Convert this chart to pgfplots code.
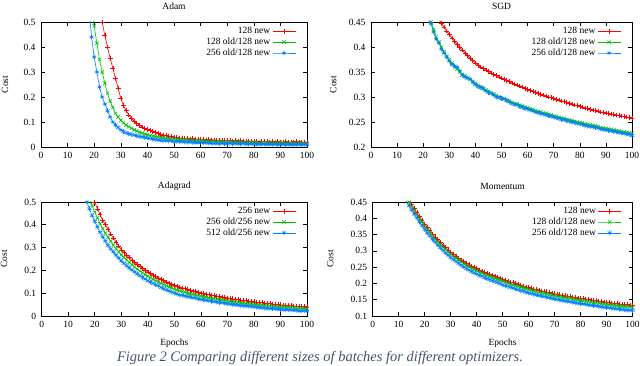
\documentclass[border=0pt]{standalone}
\usepackage{fontspec}
\setmainfont{Liberation Serif}
\usepackage{pgfplots}
\usepackage{pgfplotstable}
\pgfplotsset{compat=1.18}

\definecolor{gpred}{RGB}{255,0,0}
\definecolor{gpgreen}{RGB}{0,192,0}
\definecolor{gpblue}{RGB}{0,128,255}
\definecolor{captxt}{RGB}{68,84,106}

% epoch, red, green, blue
\pgfplotstableread{
x r g b
18 0.95 0.68 0.56
19 0.85 0.58 0.44
20 0.75 0.485 0.36
21 0.66 0.415 0.30
22 0.58 0.35 0.24
23 0.50 0.30 0.20
24 0.445 0.255 0.172
25 0.40 0.215 0.145
26 0.355 0.183 0.12
27 0.315 0.158 0.10
28 0.275 0.135 0.088
29 0.235 0.12 0.078
30 0.195 0.107 0.068
31 0.165 0.097 0.062
32 0.145 0.088 0.057
33 0.128 0.081 0.053
34 0.115 0.075 0.05
35 0.104 0.069 0.047
36 0.095 0.064 0.045
37 0.087 0.059 0.042
38 0.08 0.055 0.04
39 0.074 0.052 0.038
40 0.07 0.049 0.036
41 0.065 0.046 0.034
42 0.061 0.044 0.032
43 0.057 0.042 0.030
44 0.054 0.040 0.028
45 0.051 0.038 0.027
46 0.048 0.037 0.025
47 0.046 0.035 0.026
48 0.044 0.034 0.024
49 0.042 0.033 0.025
50 0.040 0.032 0.022
51 0.037 0.031 0.023
52 0.035 0.030 0.021
53 0.036 0.029 0.022
54 0.033 0.028 0.020
55 0.034 0.029 0.019
56 0.032 0.026 0.021
57 0.034 0.027 0.018
58 0.030 0.025 0.019
59 0.031 0.026 0.017
60 0.029 0.024 0.018
61 0.030 0.025 0.016
62 0.028 0.023 0.017
63 0.029 0.024 0.015
64 0.027 0.022 0.016
65 0.028 0.023 0.014
66 0.026 0.021 0.016
67 0.028 0.023 0.013
68 0.025 0.020 0.015
69 0.027 0.022 0.014
70 0.025 0.020 0.013
71 0.026 0.021 0.015
72 0.024 0.019 0.012
73 0.027 0.021 0.014
74 0.023 0.018 0.013
75 0.025 0.020 0.012
76 0.024 0.019 0.014
77 0.022 0.017 0.011
78 0.024 0.020 0.013
79 0.021 0.018 0.012
80 0.023 0.017 0.011
81 0.022 0.019 0.013
82 0.020 0.016 0.010
83 0.023 0.018 0.012
84 0.021 0.017 0.011
85 0.022 0.016 0.010
86 0.020 0.018 0.012
87 0.021 0.015 0.010
88 0.019 0.017 0.011
89 0.022 0.016 0.009
90 0.020 0.019 0.011
91 0.019 0.015 0.010
92 0.021 0.016 0.009
93 0.018 0.014 0.011
94 0.020 0.016 0.009
95 0.019 0.015 0.010
96 0.021 0.014 0.009
97 0.017 0.016 0.011
98 0.020 0.013 0.008
99 0.018 0.015 0.010
100 0.019 0.014 0.009
}\adam

\pgfplotstableread{
x r g b
21 0.510 0.470 0.468
22 0.497 0.460 0.455
23 0.486 0.450 0.447
24 0.475 0.435 0.430
25 0.465 0.420 0.416
26 0.455 0.410 0.408
27 0.447 0.400 0.396
28 0.440 0.390 0.388
29 0.432 0.382 0.380
30 0.425 0.374 0.372
31 0.418 0.368 0.365
32 0.411 0.360 0.362
33 0.405 0.356 0.360
34 0.399 0.350 0.352
35 0.394 0.345 0.343
36 0.388 0.342 0.340
37 0.383 0.338 0.338
38 0.378 0.335 0.336
39 0.373 0.331 0.330
40 0.368 0.327 0.325
41 0.364 0.323 0.321
42 0.360 0.320 0.319
43 0.357 0.317 0.317
44 0.354 0.314 0.312
45 0.351 0.311 0.309
46 0.348 0.308 0.307
47 0.345 0.306 0.304
48 0.343 0.303 0.300
49 0.340 0.300 0.299
50 0.338 0.298 0.297
51 0.335 0.296 0.296
52 0.333 0.294 0.293
53 0.331 0.292 0.290
54 0.328 0.289 0.287
55 0.326 0.287 0.285
56 0.324 0.286 0.284
57 0.322 0.284 0.281
58 0.320 0.282 0.279
59 0.317 0.280 0.277
60 0.315 0.278 0.276
61 0.313 0.276 0.274
62 0.311 0.275 0.272
63 0.309 0.273 0.270
64 0.307 0.271 0.269
65 0.305 0.270 0.267
66 0.304 0.268 0.266
67 0.302 0.267 0.264
68 0.300 0.265 0.263
69 0.299 0.264 0.261
70 0.297 0.262 0.260
71 0.295 0.261 0.258
72 0.294 0.259 0.257
73 0.292 0.258 0.255
74 0.291 0.257 0.254
75 0.289 0.255 0.253
76 0.287 0.254 0.251
77 0.286 0.253 0.250
78 0.284 0.251 0.249
79 0.283 0.250 0.247
80 0.281 0.249 0.246
81 0.280 0.248 0.245
82 0.278 0.246 0.243
83 0.277 0.245 0.242
84 0.275 0.244 0.241
85 0.274 0.243 0.240
86 0.273 0.242 0.239
87 0.272 0.241 0.238
88 0.270 0.239 0.236
89 0.269 0.238 0.235
90 0.268 0.237 0.234
91 0.267 0.236 0.233
92 0.266 0.235 0.232
93 0.265 0.234 0.231
94 0.264 0.233 0.230
95 0.263 0.232 0.229
96 0.262 0.231 0.228
97 0.261 0.230 0.227
98 0.260 0.229 0.226
99 0.259 0.228 0.225
100 0.258 0.227 0.223
}\sgd

\pgfplotstableread{
x r g b
16 0.68 0.60 0.54
17 0.63 0.56 0.50
18 0.58 0.52 0.47
19 0.54 0.485 0.44
20 0.50 0.455 0.415
21 0.47 0.43 0.39
22 0.445 0.405 0.367
23 0.42 0.383 0.347
24 0.40 0.363 0.328
25 0.38 0.345 0.31
26 0.36 0.328 0.295
27 0.342 0.311 0.281
28 0.324 0.296 0.267
29 0.307 0.282 0.254
30 0.29 0.268 0.242
31 0.278 0.257 0.231
32 0.267 0.246 0.221
33 0.256 0.235 0.211
34 0.245 0.225 0.202
35 0.235 0.215 0.193
36 0.226 0.206 0.185
37 0.217 0.198 0.177
38 0.209 0.190 0.170
39 0.201 0.182 0.162
40 0.193 0.175 0.155
41 0.186 0.168 0.149
42 0.179 0.161 0.143
43 0.172 0.155 0.137
44 0.166 0.149 0.133
45 0.160 0.143 0.125
46 0.155 0.138 0.120
47 0.149 0.133 0.115
48 0.144 0.128 0.110
49 0.139 0.123 0.105
50 0.134 0.118 0.100
51 0.130 0.114 0.097
52 0.127 0.111 0.092
53 0.123 0.107 0.091
54 0.120 0.104 0.088
55 0.116 0.100 0.085
56 0.113 0.097 0.083
57 0.110 0.095 0.080
58 0.107 0.092 0.079
59 0.104 0.090 0.075
60 0.101 0.087 0.073
61 0.099 0.085 0.071
62 0.096 0.083 0.069
63 0.094 0.080 0.067
64 0.091 0.078 0.065
65 0.089 0.076 0.063
66 0.087 0.074 0.062
67 0.085 0.072 0.059
68 0.083 0.070 0.058
69 0.081 0.068 0.056
70 0.079 0.066 0.054
71 0.077 0.064 0.052
72 0.075 0.063 0.051
73 0.074 0.061 0.050
74 0.072 0.060 0.048
75 0.070 0.058 0.046
76 0.068 0.057 0.045
77 0.067 0.055 0.044
78 0.065 0.054 0.043
79 0.064 0.052 0.043
80 0.062 0.051 0.040
81 0.061 0.050 0.039
82 0.059 0.049 0.038
83 0.058 0.047 0.036
84 0.056 0.046 0.034
85 0.055 0.045 0.034
86 0.054 0.044 0.033
87 0.053 0.043 0.033
88 0.051 0.042 0.031
89 0.050 0.041 0.030
90 0.049 0.040 0.029
91 0.048 0.039 0.027
92 0.047 0.038 0.028
93 0.046 0.038 0.027
94 0.045 0.037 0.026
95 0.044 0.036 0.026
96 0.043 0.035 0.025
97 0.042 0.034 0.022
98 0.042 0.034 0.023
99 0.041 0.033 0.023
100 0.040 0.032 0.022
}\adagrad

\pgfplotstableread{
x r g b
12 0.485 0.478 0.466
13 0.470 0.463 0.451
14 0.455 0.449 0.438
15 0.443 0.437 0.426
16 0.430 0.424 0.413
17 0.417 0.411 0.401
18 0.405 0.399 0.389
19 0.393 0.388 0.377
20 0.382 0.376 0.366
21 0.372 0.366 0.355
22 0.362 0.356 0.346
23 0.352 0.347 0.336
24 0.343 0.337 0.327
25 0.334 0.328 0.318
26 0.326 0.320 0.310
27 0.318 0.312 0.302
28 0.310 0.305 0.294
29 0.303 0.297 0.287
30 0.296 0.290 0.280
31 0.290 0.284 0.274
32 0.284 0.278 0.268
33 0.278 0.272 0.262
34 0.272 0.267 0.256
35 0.267 0.261 0.251
36 0.262 0.256 0.246
37 0.257 0.251 0.241
38 0.253 0.247 0.237
39 0.249 0.243 0.233
40 0.245 0.239 0.229
41 0.241 0.235 0.225
42 0.238 0.232 0.222
43 0.234 0.228 0.218
44 0.231 0.225 0.215
45 0.228 0.222 0.212
46 0.225 0.219 0.209
47 0.222 0.216 0.206
48 0.219 0.213 0.203
49 0.215 0.210 0.200
50 0.212 0.207 0.196
51 0.209 0.204 0.193
52 0.207 0.201 0.191
53 0.204 0.198 0.188
54 0.202 0.196 0.186
55 0.199 0.193 0.183
56 0.197 0.191 0.181
57 0.194 0.189 0.178
58 0.192 0.186 0.176
59 0.189 0.184 0.173
60 0.187 0.181 0.171
61 0.185 0.179 0.169
62 0.183 0.177 0.167
63 0.181 0.175 0.165
64 0.179 0.173 0.163
65 0.177 0.171 0.161
66 0.176 0.170 0.160
67 0.174 0.168 0.158
68 0.172 0.166 0.156
69 0.170 0.164 0.154
70 0.168 0.162 0.152
71 0.167 0.161 0.151
72 0.165 0.159 0.149
73 0.164 0.158 0.148
74 0.162 0.156 0.146
75 0.161 0.155 0.145
76 0.160 0.154 0.144
77 0.158 0.152 0.142
78 0.157 0.151 0.141
79 0.155 0.149 0.139
80 0.154 0.148 0.138
81 0.153 0.147 0.137
82 0.152 0.146 0.136
83 0.150 0.144 0.134
84 0.149 0.143 0.133
85 0.148 0.142 0.132
86 0.147 0.141 0.131
87 0.146 0.140 0.130
88 0.144 0.138 0.128
89 0.143 0.137 0.127
90 0.142 0.136 0.126
91 0.141 0.135 0.125
92 0.140 0.134 0.124
93 0.139 0.133 0.123
94 0.138 0.132 0.122
95 0.137 0.131 0.121
96 0.136 0.130 0.120
97 0.135 0.129 0.119
98 0.135 0.129 0.118
99 0.134 0.128 0.118
100 0.133 0.127 0.117
}\momentum

\pgfplotsset{
  panel/.style={
    scale only axis,
    anchor=south west,
    xmin=0, xmax=100,
    xtick={0,10,20,30,40,50,60,70,80,90,100},
    axis line style={black, line width=0.6pt},
    major tick length=4pt,
    tick style={black, line width=0.6pt},
    tick label style={font=\fontsize{9.5}{10}\selectfont},
    /pgf/number format/assume math mode=true,
    /pgf/number format/fixed,
    /pgf/number format/precision=2,
    yticklabel style={xshift=-2pt},
    xticklabel style={yshift=-2pt},
    title style={font=\fontsize{9.5}{10}\selectfont, at={(0.5,1)}, anchor=center, yshift=10pt},
    label style={font=\fontsize{9.5}{10}\selectfont},
    legend style={draw=none, fill=none, at={(rel axis cs:0.97,0.99)}, anchor=north east,
      font=\fontsize{9.5}{10}\selectfont, row sep=-1.2pt},
    legend cell align=right,
    legend plot pos=right,
    legend image code/.code={\draw[mark repeat=2, mark phase=2] plot coordinates {(0pt,0pt) (11.5pt,0pt) (23pt,0pt)};},
    every axis plot/.append style={line width=0.6pt, mark size=2.4pt},
  },
  sr/.style={gpred, mark=+},
  sg/.style={gpgreen, mark=x},
  sb/.style={gpblue, mark=asterisk},
}

\begin{document}
\begin{tikzpicture}
\useasboundingbox (0pt,0pt) rectangle (640pt,366pt);

\begin{axis}[panel, at={(41pt,219pt)}, width=266pt, height=125pt,
  ymin=0, ymax=0.5, ytick={0,0.1,0.2,0.3,0.4,0.5},
  title={Adam}, ylabel={Cost},
  ylabel style={at={(axis description cs:-0.135,0.5)}, anchor=center}]
\addplot[sr] table[x=x, y=r] {\adam};
\addplot[sg] table[x=x, y=g] {\adam};
\addplot[sb] table[x=x, y=b] {\adam};
\legend{128 new, 128 old/128 new, 256 old/128 new}
\end{axis}

\begin{axis}[panel, at={(371pt,219pt)}, width=261pt, height=125pt,
  ymin=0.2, ymax=0.45, ytick={0.2,0.25,0.3,0.35,0.4,0.45},
  title={SGD}, ylabel={Cost},
  ylabel style={at={(axis description cs:-0.145,0.5)}, anchor=center}]
\addplot[sr] table[x=x, y=r] {\sgd};
\addplot[sg] table[x=x, y=g] {\sgd};
\addplot[sb] table[x=x, y=b] {\sgd};
\legend{128 new, 128 old/128 new, 256 old/128 new}
\end{axis}

\begin{axis}[panel, at={(41.7pt,50pt)}, width=265.3pt, height=114pt,
  ymin=0, ymax=0.5, ytick={0,0.1,0.2,0.3,0.4,0.5},
  title={Adagrad}, ylabel={Cost}, xlabel={Epochs},
  ylabel style={at={(axis description cs:-0.142,0.5)}, anchor=center},
  xlabel style={at={(axis description cs:0.5,-0.237)}, anchor=center}]
\addplot[sr] table[x=x, y=r] {\adagrad};
\addplot[sg] table[x=x, y=g] {\adagrad};
\addplot[sb] table[x=x, y=b] {\adagrad};
\legend{256 new, 256 old/256 new, 512 old/256 new}
\end{axis}

\begin{axis}[panel, at={(372.7pt,50pt)}, width=259.8pt, height=114pt,
  ymin=0.1, ymax=0.45, ytick={0.1,0.15,0.2,0.25,0.3,0.35,0.4,0.45},
  title={Momentum}, ylabel={Cost}, xlabel={Epochs},
  ylabel style={at={(axis description cs:-0.163,0.5)}, anchor=center},
  xlabel style={at={(axis description cs:0.5,-0.237)}, anchor=center}]
\addplot[sr] table[x=x, y=r] {\momentum};
\addplot[sg] table[x=x, y=g] {\momentum};
\addplot[sb] table[x=x, y=b] {\momentum};
\legend{128 new, 128 old/128 new, 256 old/128 new}
\end{axis}

\node[font=\itshape\fontsize{14.5}{16}\selectfont, text=captxt] at (320pt,8pt)
  {Figure 2 Comparing different sizes of batches for different optimizers.};
\end{tikzpicture}
\end{document}
